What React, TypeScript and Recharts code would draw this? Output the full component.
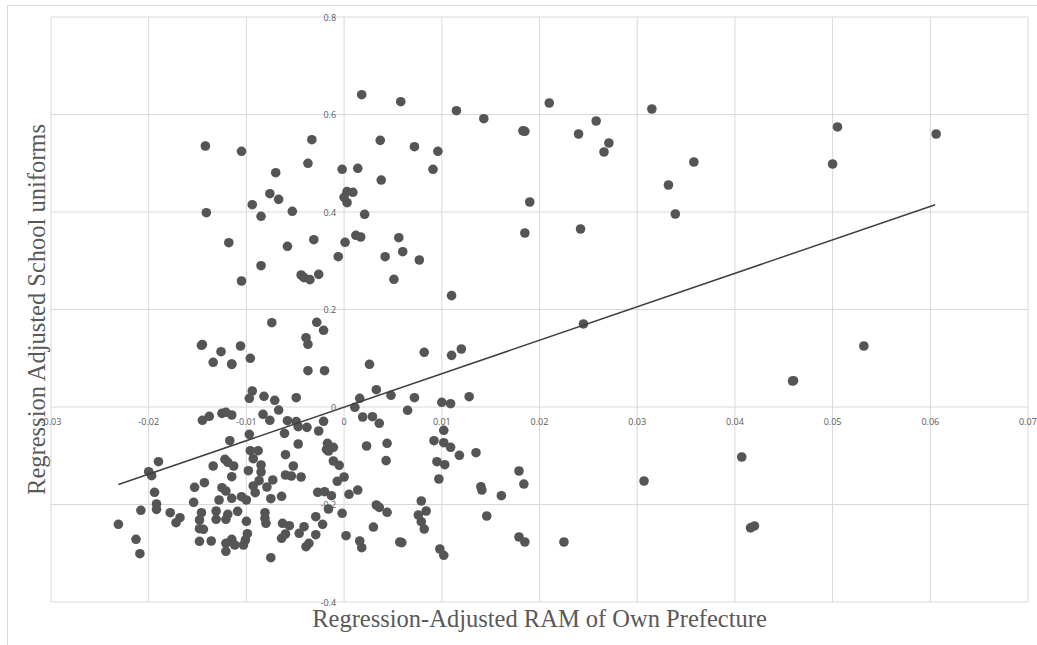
import { CartesianGrid, Scatter, ScatterChart, XAxis, YAxis } from "recharts";

const W = 1037;
const H = 645;
const M = { top: 17, right: 9, bottom: 42, left: 50 };

const xTicks = [-0.03, -0.02, -0.01, 0, 0.01, 0.02, 0.03, 0.04, 0.05, 0.06, 0.07];
const yTicks = [-0.4, -0.2, 0, 0.2, 0.4, 0.6, 0.8];

const xTitle = "Regression-Adjusted RAM of Own Prefecture";
const yTitle = "Regression Adjusted School uniforms";

// [RAM, school uniforms]
const upperPoints = [
  [-0.0142, 0.5354], [-0.0105, 0.5245], [-0.007, 0.4806], [-0.0076, 0.4375], [-0.0067, 0.426],
  [-0.0094, 0.415], [-0.0053, 0.4014], [-0.0141, 0.3986], [-0.0085, 0.3912], [-0.0118, 0.337],
  [-0.0058, 0.3296], [0.0018, 0.6406], [0.0058, 0.6263], [0.0115, 0.6078], [0.0143, 0.5914],
  [-0.0033, 0.5483], [0.0037, 0.547], [0.0072, 0.534], [0.0096, 0.5245], [-0.0037, 0.4999],
  [-0.0002, 0.4876], [0.0014, 0.4896], [0.0091, 0.4876], [0.0038, 0.4656], [0.0003, 0.4417],
  [0.0009, 0.4404], [0.0, 0.4301], [0.0003, 0.4191], [0.0021, 0.3953], [-0.0031, 0.3432],
  [0.0001, 0.3378], [0.0012, 0.3522], [0.0017, 0.3487], [0.0056, 0.3473], [0.006, 0.3186],
  [-0.0006, 0.3083], [0.0042, 0.3083], [0.0077, 0.3015], [-0.0085, 0.2898], [-0.0105, 0.2585],
  [-0.0044, 0.2708], [-0.0041, 0.2653], [-0.0035, 0.2612], [-0.0026, 0.2721], [0.0051, 0.2619],
];

const middlePoints = [
  [-0.0074, 0.1729], [-0.0146, 0.1266], [-0.0145, 0.128], [-0.0126, 0.1134], [-0.0106, 0.1251],
  [-0.0134, 0.0917], [-0.0115, 0.0882], [-0.0115, 0.0875], [-0.0096, 0.0999], [-0.0094, 0.0328],
  [-0.0097, 0.0178], [-0.0082, 0.022], [-0.0071, 0.0137], [-0.0049, 0.0191], [-0.0067, -0.0062],
  [-0.0083, -0.015], [-0.0076, -0.0273], [-0.0058, -0.0281], [-0.0049, -0.0301], [-0.0047, -0.0404],
  [-0.0125, -0.013], [-0.0121, -0.0109], [-0.0115, -0.0164], [-0.0138, -0.0191], [-0.0145, -0.0273],
  [-0.0097, -0.056], [-0.0061, -0.054], [0.011, 0.2284], [-0.0028, 0.1737], [-0.0021, 0.1573],
  [-0.0039, 0.1422], [-0.0037, 0.1286], [-0.0037, 0.0745], [-0.002, 0.0745], [0.0026, 0.0876],
  [0.0082, 0.1122], [0.011, 0.106], [0.012, 0.119], [0.0033, 0.0355], [0.0016, 0.0178],
  [0.0048, 0.024], [0.0072, 0.0191], [0.0128, 0.0211], [0.01, 0.0096], [0.0109, 0.0068],
  [0.0011, -0.0006], [0.0065, -0.0068], [0.0019, -0.0205], [0.0029, -0.0199], [0.0036, -0.0334],
  [-0.0038, -0.0417], [-0.0021, -0.0293], [-0.0026, -0.0492], [0.0102, -0.0478],
];

const lowerLeftPoints = [
  [-0.019, -0.1122], [-0.02, -0.1327], [-0.0197, -0.1409], [-0.0117, -0.0691], [-0.0047, -0.0759],
  [-0.0096, -0.0896], [-0.0088, -0.0896], [-0.0093, -0.106], [-0.006, -0.0978], [-0.0122, -0.1073],
  [-0.0119, -0.1134], [-0.0113, -0.121], [-0.0134, -0.121], [-0.0085, -0.119], [-0.0085, -0.1333],
  [-0.0098, -0.1307], [-0.0115, -0.143], [-0.006, -0.1395], [-0.0054, -0.1415], [-0.0052, -0.121],
  [-0.0073, -0.1497], [-0.0087, -0.1512], [-0.0093, -0.162], [-0.0091, -0.1758], [-0.0079, -0.1641],
  [-0.0153, -0.1647], [-0.0143, -0.1553], [-0.0194, -0.175], [-0.0125, -0.1655], [-0.0121, -0.1723],
  [-0.0115, -0.1873], [-0.0128, -0.1908], [-0.0105, -0.184], [-0.01, -0.1908], [-0.0075, -0.1881],
  [-0.0064, -0.1832], [-0.0154, -0.1955], [-0.0192, -0.199], [-0.0192, -0.2099], [-0.0208, -0.2119],
  [-0.0231, -0.2406], [-0.0178, -0.2168], [-0.0168, -0.2271], [-0.0172, -0.2373], [-0.0146, -0.2168],
  [-0.0148, -0.2318], [-0.0148, -0.2496], [-0.0144, -0.2509], [-0.0131, -0.2133], [-0.0131, -0.2304],
  [-0.0121, -0.2304], [-0.0119, -0.2201], [-0.0109, -0.214], [-0.01, -0.2345], [-0.0099, -0.2599],
  [-0.0081, -0.2168], [-0.0081, -0.2283], [-0.008, -0.2386], [-0.0063, -0.2386], [-0.0056, -0.2435],
  [-0.0046, -0.2591], [-0.0064, -0.2693], [-0.006, -0.2605], [-0.0213, -0.2714], [-0.0209, -0.3009],
  [-0.0148, -0.2755], [-0.0136, -0.2749], [-0.0121, -0.2796], [-0.0115, -0.2714], [-0.0112, -0.2831],
  [-0.0103, -0.2831], [-0.0101, -0.2728], [-0.0121, -0.296], [-0.0075, -0.3091],
];

const lowerRightPoints = [
  [-0.0017, -0.0745], [-0.0018, -0.0868], [-0.0011, -0.0827], [-0.0016, -0.0903], [-0.0011, -0.1108],
  [-0.0005, -0.1196], [0.0, -0.1436], [-0.0007, -0.1524], [-0.0044, -0.1436], [0.0023, -0.08],
  [0.0044, -0.0745], [0.0043, -0.1101], [0.0092, -0.0691], [0.0102, -0.0732], [0.0109, -0.0827],
  [0.0118, -0.0991], [0.0135, -0.0937], [0.0095, -0.1122], [0.0103, -0.1184], [0.0097, -0.1477],
  [0.014, -0.1635], [0.0141, -0.1703], [0.0161, -0.1819], [-0.0027, -0.175], [-0.002, -0.1737],
  [-0.0013, -0.1819], [0.0005, -0.1791], [0.0014, -0.1703], [-0.0016, -0.2092], [-0.0002, -0.2181],
  [0.0033, -0.201], [0.0036, -0.2058], [0.0044, -0.216], [0.0079, -0.1928], [0.0084, -0.2133],
  [0.0076, -0.2215], [0.0079, -0.2353], [0.0082, -0.2503], [0.0146, -0.2236], [-0.0029, -0.225],
  [-0.0022, -0.2406], [-0.0041, -0.2455], [-0.0029, -0.262], [-0.0036, -0.2796], [-0.0039, -0.2866],
  [0.0002, -0.264], [0.003, -0.2462], [0.0016, -0.2749], [0.0018, -0.2886], [0.0057, -0.2769],
  [0.0059, -0.2783], [0.0098, -0.2913], [0.0102, -0.3042],
];

const farRightPoints = [
  [0.021, 0.6236], [0.0315, 0.6113], [0.0258, 0.5867], [0.0183, 0.5665], [0.0185, 0.5655],
  [0.024, 0.56], [0.0271, 0.5415], [0.0266, 0.5231], [0.0358, 0.5026], [0.0332, 0.4554],
  [0.0339, 0.3959], [0.05, 0.4985], [0.0505, 0.5744], [0.0606, 0.56], [0.019, 0.4205],
  [0.0185, 0.3569], [0.0242, 0.3651], [0.0245, 0.1703], [0.0532, 0.1251], [0.0459, 0.0533],
  [0.046, 0.054], [0.0407, -0.1026], [0.0307, -0.1518], [0.0179, -0.1313], [0.0184, -0.158],
  [0.0179, -0.2667], [0.0185, -0.2769], [0.0225, -0.2769], [0.0416, -0.248], [0.042, -0.244],
];

// linear trendline end points
const trendX = [-0.0231, 0.0605];
const trendY = [-0.159, 0.415];

const points = [
  ...upperPoints,
  ...middlePoints,
  ...lowerLeftPoints,
  ...lowerRightPoints,
  ...farRightPoints,
].map(([x, y]) => ({ x, y }));
const trend = trendX.map((x, i) => ({ x, y: trendY[i] }));

const xMin = xTicks[0];
const xMax = xTicks[xTicks.length - 1];
const yMin = yTicks[0];
const yMax = yTicks[yTicks.length - 1];
// plot area once the 1px axes are taken off
const plotLeft = M.left + 1;
const plotW = W - plotLeft - M.right;
const plotH = H - M.top - M.bottom - 1;
// axes cross at the origin
const zeroX = plotLeft + (plotW * (0 - xMin)) / (xMax - xMin);
const zeroY = M.top + (plotH * (yMax - 0)) / (yMax - yMin);

const tickFont = { fontFamily: "'Open Sans', sans-serif", fontSize: 9, fill: "#595959" };

function XTick(props: any) {
  return (
    <text x={props.x} y={zeroY + 14} textAnchor="middle" dominantBaseline="central" {...tickFont}>
      {String(props.payload.value)}
    </text>
  );
}

function YTick(props: any) {
  return (
    <text x={zeroX - 8} y={props.y} textAnchor="end" dominantBaseline="central" {...tickFont}>
      {String(props.payload.value)}
    </text>
  );
}

function Dot(props: any) {
  if (props.cx == null) return <g />;
  return <circle cx={props.cx} cy={props.cy} r={4.8} fill="#555555" />;
}

export default function App() {
  return (
    <div
      style={{
        position: "absolute",
        left: 0,
        top: 0,
        width: W,
        height: H,
        overflow: "hidden",
        background: "#fff",
      }}
    >
      <div
        style={{
          position: "absolute",
          left: 7,
          top: 5,
          width: W + 40,
          height: H + 40,
          border: "1px solid #d9d9d9",
        }}
      />
      <div style={{ position: "absolute", left: 0, top: 0 }}>
        <ScatterChart width={W} height={H} margin={M}>
          <CartesianGrid stroke="#d9d9d9" strokeWidth={1} />
          <XAxis
            type="number"
            dataKey="x"
            domain={[xMin, xMax]}
            ticks={xTicks}
            interval={0}
            height={1}
            axisLine={false}
            tickLine={false}
            tick={(p: any) => <XTick {...p} />}
            allowDataOverflow
          />
          <YAxis
            type="number"
            dataKey="y"
            domain={[yMin, yMax]}
            ticks={yTicks}
            interval={0}
            width={1}
            axisLine={false}
            tickLine={false}
            tick={(p: any) => <YTick {...p} />}
            allowDataOverflow
          />
          <Scatter data={points} shape={<Dot />} isAnimationActive={false} />
          <Scatter
            data={trend}
            line={{ stroke: "#404040", strokeWidth: 1.5 }}
            shape={() => <g />}
            isAnimationActive={false}
          />
        </ScatterChart>
      </div>
      <svg
        width={W}
        height={H}
        style={{ position: "absolute", left: 0, top: 0, pointerEvents: "none" }}
      >
        <text
          x={plotLeft + plotW / 2}
          y={627}
          textAnchor="middle"
          fontFamily="'Liberation Serif', serif"
          fontSize={24.5}
          fill="#595959"
        >
          {xTitle}
        </text>
        <text
          x={45}
          y={M.top + plotH / 2}
          transform={`rotate(-90, 45, ${M.top + plotH / 2})`}
          textAnchor="middle"
          fontFamily="'Liberation Serif', serif"
          fontSize={24.5}
          fill="#595959"
        >
          {yTitle}
        </text>
      </svg>
    </div>
  );
}
